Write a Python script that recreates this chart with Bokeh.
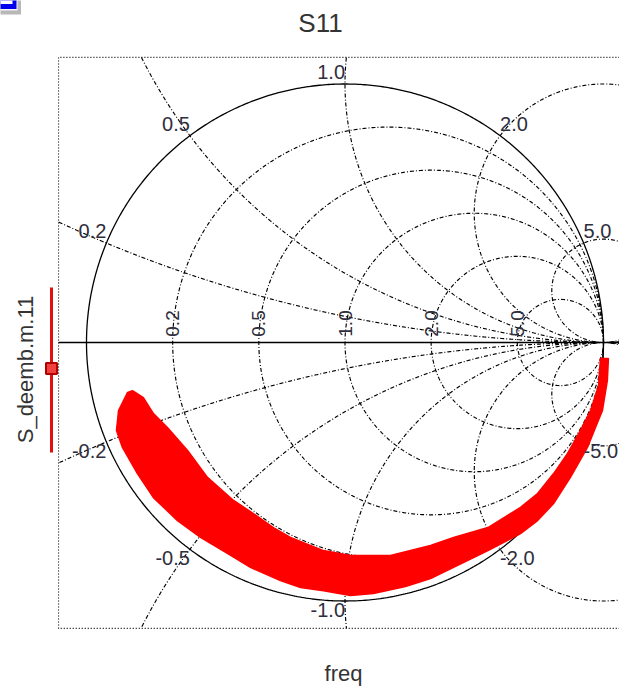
import numpy as np
from bokeh.plotting import figure
from bokeh.models import Range1d
from bokeh.embed import file_html
from bokeh.resources import INLINE
from bokeh.core.properties import value

W, H = 619, 689
# Smith chart placement on the page (pixels): centre and radius of |Gamma| = 1
CX, CY, RAD = 344.5, 342.0, 258.5


def gx(px):
    return (px - CX) / RAD


def gy(py):
    return (CY - py) / RAD


# ---- grid values -------------------------------------------------------
resistances = [0.2, 0.5, 1.0, 2.0, 5.0]
resistance_labels = ["0.2", "0.5", "1.0", "2.0", "5.0"]
reactances = [0.2, 0.5, 1.0, 2.0, 5.0]
reactance_labels_pos = ["0.2", "0.5", "1.0", "2.0", "5.0"]
reactance_labels_neg = ["-0.2", "-0.5", "-1.0", "-2.0", "-5.0"]

# ---- S_deemb.m.11 : edges of the plotted cloud of points (Re, Im) ------
s11_outer_re = [-0.841, -0.876, -0.884, -0.861, -0.803, -0.741, -0.648, -0.559,
                -0.455, -0.366, -0.250, -0.172, -0.083, 0.021, 0.110, 0.234,
                0.331, 0.420, 0.553, 0.679, 0.745, 0.807, 0.872, 0.938,
                0.969, 0.996, 1.015, 1.019]
s11_outer_im = [-0.193, -0.263, -0.340, -0.406, -0.507, -0.600, -0.689, -0.754,
                -0.816, -0.870, -0.921, -0.948, -0.960, -0.979, -0.971, -0.944,
                -0.913, -0.870, -0.805, -0.739, -0.689, -0.623, -0.522, -0.406,
                -0.329, -0.263, -0.147, -0.062]
s11_inner_re = [0.988, 0.981, 0.950, 0.911, 0.861, 0.807, 0.745, 0.679,
                0.553, 0.420, 0.331, 0.176, 0.021, -0.083, -0.211, -0.277,
                -0.354, -0.431, -0.532, -0.609, -0.687, -0.741, -0.780, -0.822]
s11_inner_im = [-0.062, -0.166, -0.263, -0.340, -0.429, -0.507, -0.584, -0.638,
                -0.716, -0.754, -0.785, -0.824, -0.824, -0.805, -0.754, -0.716,
                -0.662, -0.611, -0.522, -0.418, -0.329, -0.275, -0.213, -0.186]

# dotted plot frame in Gamma units
FL, FR, FT, FB = -1.108, 1.108, 1.103, -1.106

FONT = value("Liberation Sans")
LBL = "#2e2e3c"
GRID_DASH = "4 2 1 2"

p = figure(width=W, height=H, output_backend="svg", toolbar_location=None,
           x_range=Range1d(gx(0), gx(W)), y_range=Range1d(gy(H), gy(0)),
           min_border=0, x_axis_type=None, y_axis_type=None)
p.outline_line_color = None
p.grid.visible = False
p.background_fill_color = "white"
p.border_fill_color = "white"


def circle_runs(cx, cy, r):
    """Points of a full circle, split into the runs lying inside the frame."""
    n = int(3000 * r) + 600
    t = np.linspace(0, 2 * np.pi, n)
    x = cx + r * np.cos(t)
    y = cy + r * np.sin(t)
    inside = (x >= FL) & (x <= FR) & (y >= FB) & (y <= FT)
    if inside.all():
        return [x.tolist()], [y.tolist()]
    # start at an outside point so that no run wraps round
    k = int(np.argmin(inside))
    x = np.roll(x, -k)
    y = np.roll(y, -k)
    inside = np.roll(inside, -k)
    xs, ys = [], []
    cur_x, cur_y = [], []
    for xi, yi, ok in zip(x, y, inside):
        if ok:
            cur_x.append(xi)
            cur_y.append(yi)
        elif cur_x:
            xs.append(cur_x)
            ys.append(cur_y)
            cur_x, cur_y = [], []
    if cur_x:
        xs.append(cur_x)
        ys.append(cur_y)
    return xs, ys


# constant-resistance circles
gxs, gys = [], []
for r in resistances:
    a, b = circle_runs(r / (1 + r), 0.0, 1 / (1 + r))
    gxs += a
    gys += b
# constant-reactance circles (drawn out to the frame)
for xv in reactances:
    for s in (1, -1):
        a, b = circle_runs(1.0, s / xv, 1 / xv)
        gxs += a
        gys += b
p.multi_line(gxs, gys, line_color="black", line_width=1.15, line_dash=GRID_DASH)

# frame
p.line([FR, FL, FL, FR], [FT, FT, FB, FB], line_color="black", line_width=1.1,
       line_dash="1 2")

# unit circle and real axis
t = np.linspace(0, 2 * np.pi, 720)
p.line(np.cos(t), np.sin(t), line_color="black", line_width=1.3)
p.line([FL, FR], [0, 0], line_color="black", line_width=1.3)

# S11 cloud
p.patch(s11_outer_re + s11_inner_re, s11_outer_im + s11_inner_im,
        fill_color="#ff0000", line_color="#ff0000", line_width=1.5)

# resistance labels along the real axis
r_pos = [(r - 1) / (r + 1) for r in resistances]
p.text(r_pos, [gy(323)] * len(r_pos), text=resistance_labels, angle=np.pi / 2,
       text_align="center", text_baseline="middle", text_font=FONT,
       text_font_size="19px", text_color=LBL)


# reactance labels at the rim
def rim(xv):
    z = complex(0, xv)
    g = (z - 1) / (z + 1)
    return g.real, g.imag


for labels, sign, base, dy in ((reactance_labels_pos, 1, "bottom", 5 / RAD),
                               (reactance_labels_neg, -1, "top", -2 / RAD)):
    pts = [rim(sign * xv) for xv in reactances]
    for align in ("right", "left"):
        sel = [i for i, (re_, _) in enumerate(pts)
               if (re_ <= 1e-9) == (align == "right")]
        p.text([pts[i][0] for i in sel], [pts[i][1] + dy for i in sel],
               text=[labels[i] for i in sel], text_align=align,
               text_baseline=base, text_font=FONT, text_font_size="20px",
               text_color=LBL)

# title and axis names
p.text([gx(320)], [gy(22)], text=["S11"], text_align="center",
       text_baseline="alphabetic", text_font=FONT, text_font_size="26px",
       text_color="#333333")
p.text([gx(343)], [gy(673)], text=["freq"], text_align="center",
       text_baseline="alphabetic", text_font=FONT, text_font_size="22px",
       text_color="#333333")
p.text([gx(25)], [gy(369)], text=["S_deemb.m.11"], angle=np.pi / 2,
       text_align="center", text_baseline="alphabetic", text_font=FONT,
       text_font_size="22px", text_color="#333333")

# trace key beside the y label
p.line([gx(51), gx(51)], [gy(287), gy(452)], line_color="#e01010", line_width=3)
p.scatter([gx(51)], [gy(368)], marker="square", size=11, fill_color="#f04040",
          line_color="#b00000", line_width=2)

# selection box in the corner
p.quad(left=[gx(-5)], right=[gx(20.5)], top=[gy(-5)], bottom=[gy(14)],
       fill_color="#b8b8b8", line_color=None)
p.quad(left=[gx(-5)], right=[gx(17)], top=[gy(-5)], bottom=[gy(10)],
       fill_color="#f4f4f4", line_color=None)
p.quad(left=[gx(-5)], right=[gx(16)], top=[gy(-5)], bottom=[gy(8.5)],
       fill_color="#0000ee", line_color=None)
p.quad(left=[gx(-5)], right=[gx(12)], top=[gy(-5)], bottom=[gy(3.5)],
       fill_color="white", line_color=None)

open("out.html", "w").write(file_html(p, INLINE))
